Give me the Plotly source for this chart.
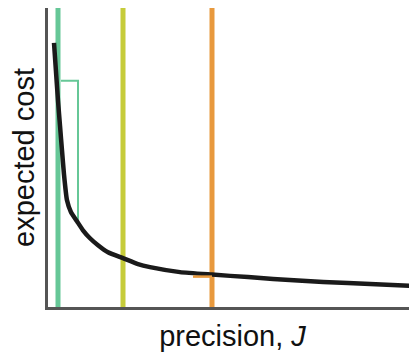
import plotly.graph_objects as go

# Data
J_curve = [0.6, 0.8, 1.0, 1.2, 1.4, 1.6, 1.9, 2.3, 2.9, 3.5, 4.2, 5.0, 6.0, 7.5, 9.0, 10.2, 13.2, 16.4, 20.0, 25.0, 30.0, 37.0]
cost_curve = [265, 236, 207, 182, 157, 133, 107, 95, 86, 77, 69, 62, 55, 49, 43, 40, 35, 32.5, 30, 26.5, 24, 21]

J_markers = [1.0, 7.5, 16.4]
marker_colors = ["#66C797", "#C6CC3A", "#E8993D"]

bracket_J = [1.3, 3.0, 3.0]
bracket_cost = [227, 227, 85]
tick_J = [14.5, 16.4]
tick_cost = [30.5, 30.5]

y_top = 300

fig = go.Figure()
for j, c in zip(J_markers, marker_colors):
    fig.add_trace(go.Scatter(x=[j, j], y=[0, y_top], mode="lines",
                             line=dict(color=c, width=5), hoverinfo="skip"))
fig.add_trace(go.Scatter(x=bracket_J, y=bracket_cost, mode="lines",
                         line=dict(color=marker_colors[0], width=2)))
fig.add_trace(go.Scatter(x=J_curve, y=cost_curve, mode="lines",
                         line=dict(color="#1a1a1a", width=4.5, shape="spline", smoothing=0.5)))
fig.add_trace(go.Scatter(x=tick_J, y=tick_cost, mode="lines",
                         line=dict(color=marker_colors[2], width=2.5)))

# page body has an 8px margin, so the figure is offset by 8px
fig.update_layout(
    width=409, height=346,
    margin=dict(l=40, r=0, t=0, b=47),
    paper_bgcolor="white", plot_bgcolor="white",
    showlegend=False,
    font=dict(family="Liberation Sans, Arial, sans-serif", size=29, color="#111"),
    xaxis=dict(range=[0, 36.9], showgrid=False, zeroline=False, showticklabels=False, ticks="",
               showline=True, linecolor="#555555", linewidth=3, automargin=False,
               title=dict(text="precision, <i>J</i>", standoff=17, font=dict(size=29))),
    yaxis=dict(range=[0, y_top], showgrid=False, zeroline=False, showticklabels=False, ticks="",
               showline=True, linecolor="#555555", linewidth=3, automargin=False,
               title=dict(text="expected cost", standoff=4, font=dict(size=29))),
)

fig.write_html("out.html")
